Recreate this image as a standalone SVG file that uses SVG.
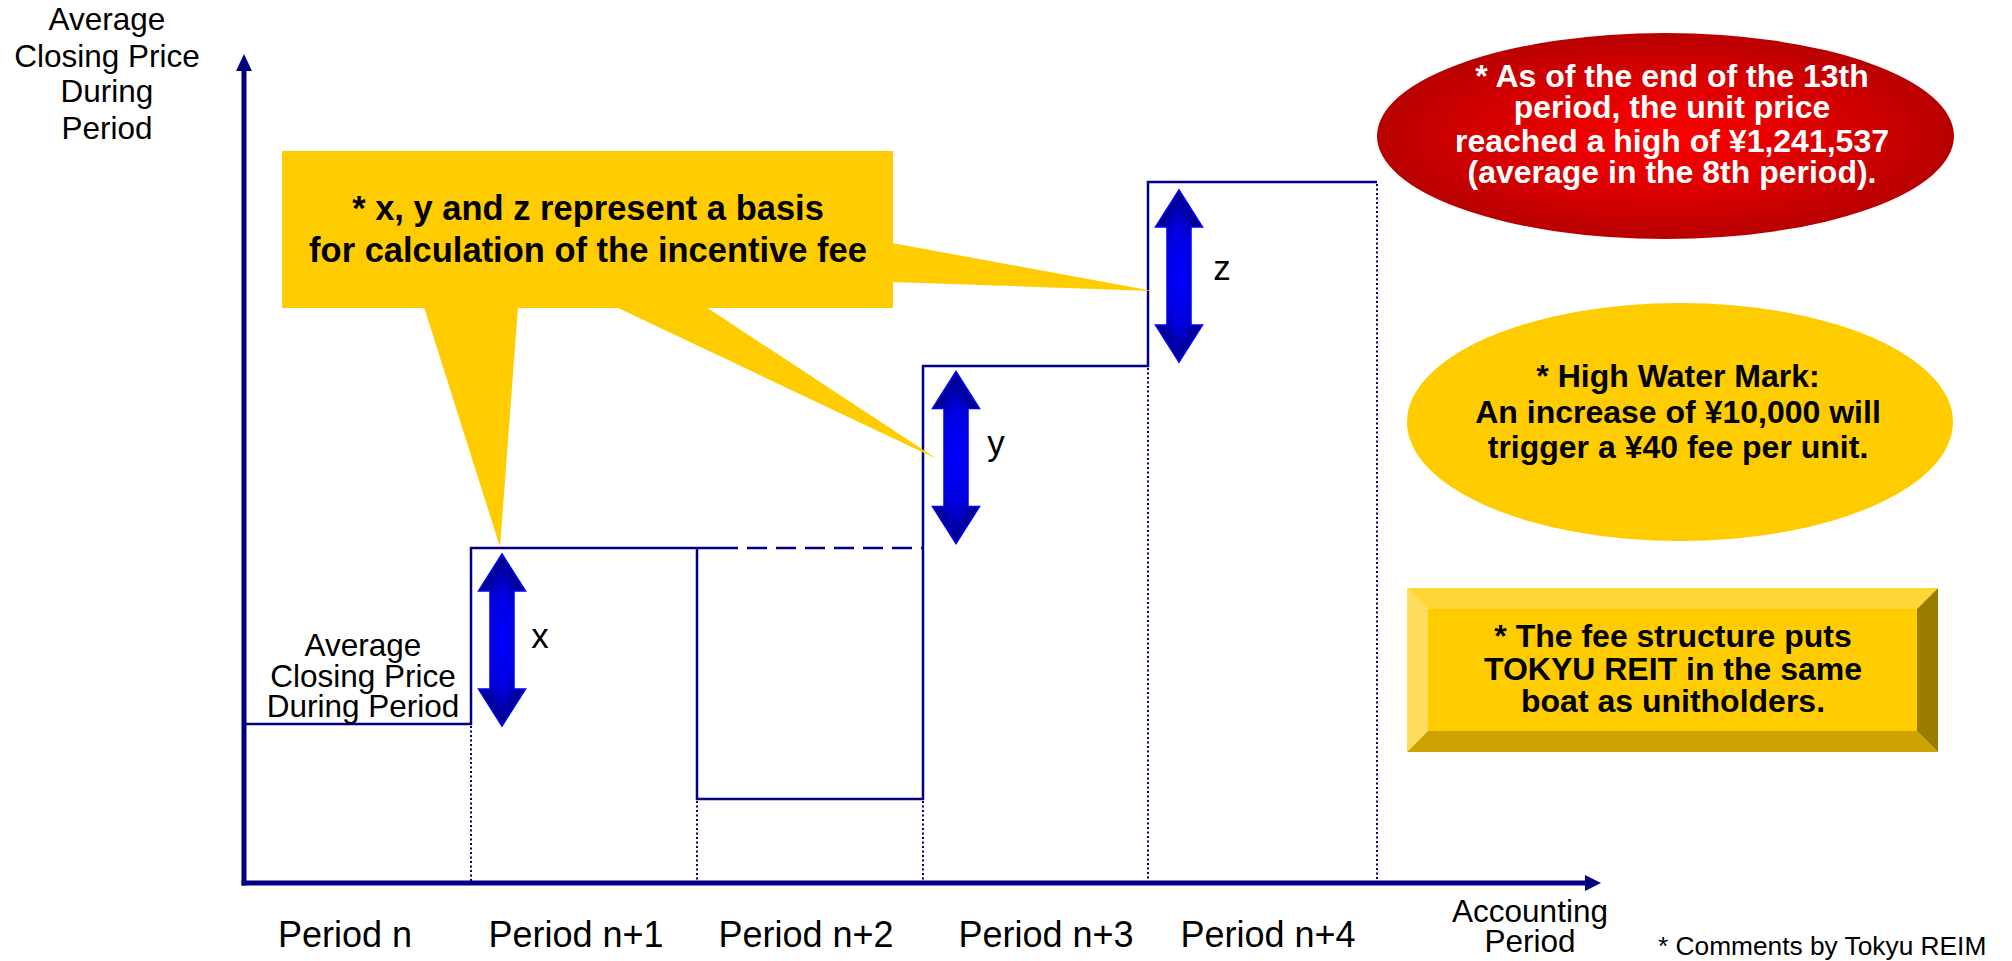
<svg xmlns="http://www.w3.org/2000/svg" width="2012" height="961" viewBox="0 0 2012 961">
<style>
text{font-family:"Liberation Sans",Arial,sans-serif;fill:#000}
.lbl{font-size:31.5px;text-anchor:middle}
.per{font-size:36px;text-anchor:middle}
.b{font-weight:bold;text-anchor:middle}
.w{fill:#fff}
.step{stroke:#000080;stroke-width:2.5;fill:none}
.dash{stroke:#000080;stroke-width:2.5;fill:none;stroke-dasharray:20 9}
.dot{stroke:#000080;stroke-width:2;fill:none;stroke-dasharray:2 2.5}
.axis{stroke:#000080;stroke-width:5;fill:none}
.dbl{fill:url(#blueGrad);stroke:#0000FF;stroke-width:1.5}
</style>
<defs>
<radialGradient id="blueGrad" cx="0.5" cy="0.5" r="0.5">
<stop offset="0" stop-color="#0000FF"/>
<stop offset="0.55" stop-color="#0000E0"/>
<stop offset="1" stop-color="#000080"/>
</radialGradient>
<radialGradient id="redGrad" cx="0.5" cy="0.5" r="0.5">
<stop offset="0" stop-color="#FF0000"/>
<stop offset="0.6" stop-color="#D80000"/>
<stop offset="1" stop-color="#B80000"/>
</radialGradient>
<path id="dblArrow" d="M0,-86 L23.5,-49 L12,-49 L12,49 L23.5,49 L0,86 L-23.5,49 L-12,49 L-12,-49 L-23.5,-49 Z"/>
</defs>

<g id="connectors">
<!-- axes -->
<line class="axis" x1="244" y1="885.5" x2="244" y2="66"/>
<polygon points="244,54 252,71 236,71" fill="#000080"/>
<line class="axis" x1="241.5" y1="883" x2="1589" y2="883"/>
<polygon points="1601,883 1585,875 1585,891" fill="#000080"/>
<!-- steps -->
<polyline class="step" points="244,724 471,724 471,548 718,548"/>
<line class="dash" x1="718" y1="548" x2="923" y2="548"/>
<polyline class="step" points="697,548 697,799 923,799 923,366 1148,366 1148,182 1377,182"/>
<!-- dotted verticals -->
<line class="dot" x1="471" y1="726" x2="471" y2="881"/>
<line class="dot" x1="697" y1="801" x2="697" y2="881"/>
<line class="dot" x1="923" y1="801" x2="923" y2="881"/>
<line class="dot" x1="1148" y1="368" x2="1148" y2="881"/>
<line class="dot" x1="1377" y1="184" x2="1377" y2="881"/>
</g>

<g id="arrow-x"><use href="#dblArrow" class="dbl" transform="translate(502,640)"/><text x="540" y="648" font-size="35" text-anchor="middle">x</text></g>
<g id="arrow-y"><use href="#dblArrow" class="dbl" transform="translate(956,457.5)"/><text x="996" y="455" font-size="35" text-anchor="middle">y</text></g>
<g id="arrow-z"><use href="#dblArrow" class="dbl" transform="translate(1179,276)"/><text x="1222" y="280" font-size="35" text-anchor="middle">z</text></g>

<g id="callout">
<rect x="282" y="151" width="611" height="157" fill="#FFCC00"/>
<polygon points="424,307 518,307 500,547" fill="#FFCC00"/>
<polygon points="616,307 706,307 937,459" fill="#FFCC00"/>
<polygon points="892,243 892,282 1153,291" fill="#FFCC00"/>
<text class="b" x="588" y="220" font-size="34.5">* x, y and z represent a basis</text>
<text class="b" x="588" y="262" font-size="34.5">for calculation of the incentive fee</text>
</g>

<g id="y-axis-label">
<text class="lbl" x="107" y="30">Average</text>
<text class="lbl" x="107" y="67">Closing Price</text>
<text class="lbl" x="107" y="102">During</text>
<text class="lbl" x="107" y="139">Period</text>
</g>

<g id="level-label">
<text class="lbl" x="363" y="656">Average</text>
<text class="lbl" x="363" y="687">Closing Price</text>
<text class="lbl" x="363" y="717">During Period</text>
</g>

<g id="period-labels">
<text class="per" x="345" y="947">Period n</text>
<text class="per" x="576" y="947">Period n+1</text>
<text class="per" x="806" y="947">Period n+2</text>
<text class="per" x="1046" y="947">Period n+3</text>
<text class="per" x="1268" y="947">Period n+4</text>
</g>

<g id="x-axis-label">
<text class="lbl" x="1530" y="922">Accounting</text>
<text class="lbl" x="1530" y="952">Period</text>
</g>

<g id="red-note">
<ellipse cx="1665.5" cy="136" rx="288.5" ry="103" fill="url(#redGrad)"/>
<text class="b w" x="1672" y="87" font-size="32">* As of the end of the 13th</text>
<text class="b w" x="1672" y="118" font-size="32">period, the unit price</text>
<text class="b w" x="1672" y="152" font-size="32">reached a high of ¥1,241,537</text>
<text class="b w" x="1672" y="183" font-size="32">(average in the 8th period).</text>
</g>

<g id="hwm-note">
<ellipse cx="1680" cy="422" rx="273" ry="119" fill="#FFCC00"/>
<text class="b" x="1678" y="387" font-size="32">* High Water Mark:</text>
<text class="b" x="1678" y="423" font-size="32">An increase of ¥10,000 will</text>
<text class="b" x="1678" y="458" font-size="32">trigger a ¥40 fee per unit.</text>
</g>

<g id="boat-note">
<polygon points="1407,588 1938,588 1917,609 1428,609" fill="#FFD633"/>
<polygon points="1407,588 1428,609 1428,731 1407,752" fill="#FFDD5C"/>
<polygon points="1407,752 1428,731 1917,731 1938,752" fill="#CCA300"/>
<polygon points="1938,588 1938,752 1917,731 1917,609" fill="#9C7C00"/>
<rect x="1428" y="609" width="489" height="122" fill="#FFCC00"/>
<text class="b" x="1673" y="647" font-size="32">* The fee structure puts</text>
<text class="b" x="1673" y="680" font-size="32">TOKYU REIT in the same</text>
<text class="b" x="1673" y="712" font-size="32">boat as unitholders.</text>
</g>

<g id="footnote">
<text x="1658" y="955" font-size="26.3">* Comments by Tokyu REIM</text>
</g>
</svg>
